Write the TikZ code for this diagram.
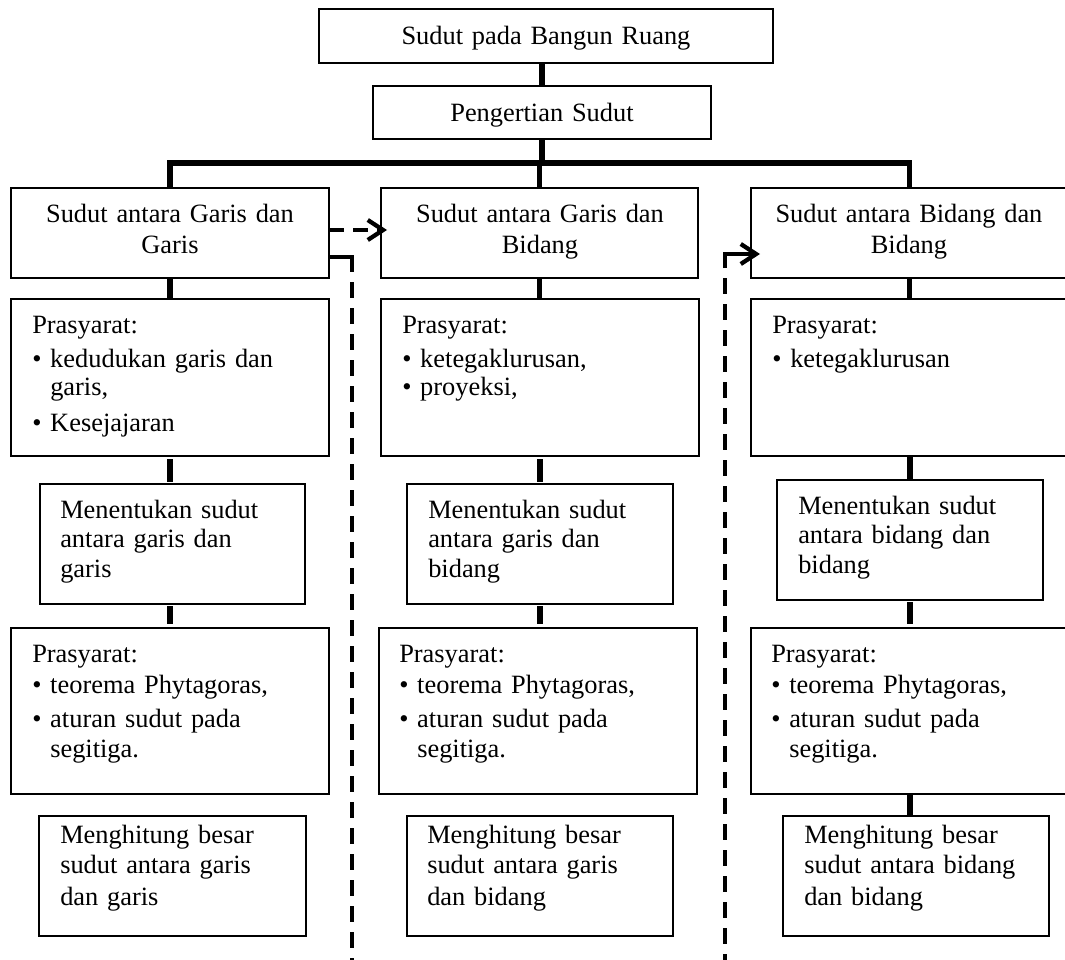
\documentclass[tikz,border=0pt]{standalone}
\usepackage{fontspec}
\setmainfont{Liberation Serif}
\usetikzlibrary{arrows.meta,calc}
\newcommand{\mybox}[5]{\node[box, minimum width={(#4-#2)*0.75pt}, minimum height={(#5-#3)*0.75pt}] (#1) at ({(#2+#4)/2},{(#3+#5)/2}) {};}
\newcommand{\bul}{\makebox[13.5pt][l]{\textbullet}}
\newcommand{\ind}{\hspace*{13.5pt}}
\begin{document}
\begin{tikzpicture}[x=0.75pt,y=-0.75pt,
  box/.style={draw=black, line width=0.9pt, inner sep=0pt, outer sep=0pt, rectangle},
  ltxt/.style={inner sep=0pt, anchor=base west, text width=260pt, align=left, font=\fontsize{19.8pt}{21pt}\selectfont},
  mtxt/.style={ltxt, font=\fontsize{19.8pt}{22.2pt}\selectfont},
  htxt/.style={ltxt, font=\fontsize{19.8pt}{22.5pt}\selectfont},
  ctxt/.style={inner sep=0pt, anchor=base, text width=230pt, align=center, font=\fontsize{19.8pt}{23.25pt}\selectfont},
  conn/.style={line width=3.8pt},
  gapconn/.style={conn, shorten <=2.25pt, shorten >=1.5pt},
  stub/.style={conn, shorten <=1.5pt, shorten >=3pt},
  tip/.style={-{Straight Barb[length=11.5pt,width=15pt]}},
  dasharrow/.style={line width=3.2pt, dash pattern=on 11.25pt off 6.75pt, tip},
  vdash/.style={line width=3.2pt, dash pattern=on 12pt off 7.5pt, dash phase=12pt},
  elbow/.style={line width=3.2pt}
]
\useasboundingbox (0,0) rectangle (1065,960);
\clip (0,0) rectangle (1065,960);

% boxes
\mybox{top}{319}{9}{773}{63}
\mybox{peng}{373}{86}{711}{139}
\mybox{b1}{11}{188}{329}{278}
\mybox{b2}{381}{188}{698}{278}
\mybox{b3}{751}{188}{1068}{278}
\mybox{p1a}{11}{299}{329}{456}
\mybox{p1b}{381}{299}{699}{456}
\mybox{p1c}{751}{299}{1069}{456}
\mybox{m1a}{40}{484}{305}{604}
\mybox{m1b}{407}{484}{673}{604}
\mybox{m1c}{777}{480}{1043}{600}
\mybox{p2a}{11}{628}{329}{794}
\mybox{p2b}{379}{628}{697}{794}
\mybox{p2c}{751}{628}{1069}{794}
\mybox{h1a}{39}{816}{306}{936}
\mybox{h1b}{407}{816}{673}{936}
\mybox{h1c}{783}{816}{1049}{936}

% texts
\node[ctxt] (ttop) at (546,45) {Sudut pada Bangun Ruang};
\node[ctxt] (tpeng) at (542,121) {Pengertian Sudut};
\node[ctxt] (tb1) at (170,222) {Sudut antara Garis dan\\Garis};
\node[ctxt] (tb2) at (540,222) {Sudut antara Garis dan\\Bidang};
\node[ctxt] (tb3) at (909,222) {Sudut antara Bidang dan\\Bidang};

\node[ltxt] (tp1a) at (32,333) {Prasyarat:\\[4.5pt]\bul kedudukan garis dan\\\ind garis,\\[6pt]\bul Kesejajaran};
\node[ltxt] (tp1b) at (402,333) {Prasyarat:\\[4.5pt]\bul ketegaklurusan,\\\bul proyeksi,};
\node[ltxt] (tp1c) at (772,333) {Prasyarat:\\[4.5pt]\bul ketegaklurusan};

\node[mtxt] (tm1a) at (60,518) {Menentukan sudut\\antara garis dan\\garis};
\node[mtxt] (tm1b) at (428,518) {Menentukan sudut\\antara garis dan\\bidang};
\node[mtxt] (tm1c) at (798,514) {Menentukan sudut\\antara bidang dan\\bidang};

\node[ltxt] (tp2a) at (32,662) {Prasyarat:\\[2.25pt]\bul teorema Phytagoras,\\[4.5pt]\bul aturan sudut pada\\[1.5pt]\ind segitiga.};
\node[ltxt] (tp2b) at (399,662) {Prasyarat:\\[2.25pt]\bul teorema Phytagoras,\\[4.5pt]\bul aturan sudut pada\\[1.5pt]\ind segitiga.};
\node[ltxt] (tp2c) at (771,662) {Prasyarat:\\[2.25pt]\bul teorema Phytagoras,\\[4.5pt]\bul aturan sudut pada\\[1.5pt]\ind segitiga.};

\node[htxt] (th1a) at (60,843) {Menghitung besar\\sudut antara garis\\[1.5pt]dan garis};
\node[htxt] (th1b) at (427,843) {Menghitung besar\\sudut antara garis\\[1.5pt]dan bidang};
\node[htxt] (th1c) at (804,843) {Menghitung besar\\sudut antara bidang\\[1.5pt]dan bidang};

% solid connectors
\coordinate (bus) at (540,163);
\draw[conn] (peng.north) -- (peng.north |- top.south);
\draw[conn] (peng.south) -- (peng.south |- bus);
\draw[conn] (b1.north) -- (b1.north |- bus) -| (b3.north);
\draw[conn] (b2.north) -- (b2.north |- bus);
\draw[conn] (b1.south) -- (b1.south |- p1a.north);
\draw[conn] (b2.south) -- (b2.south |- p1b.north);
\draw[conn] (b3.south) -- (b3.south |- p1c.north);
\draw[gapconn] (p1a.south) -- (p1a.south |- m1a.north);
\draw[gapconn] (p1b.south) -- (p1b.south |- m1b.north);
\draw[conn] (p1c.south) -- (p1c.south |- m1c.north);
\draw[stub] (m1a.south -| p1a.south) -- (p2a.north);
\draw[stub] (m1b.south -| p1b.south) -- (p1b.south |- p2b.north);
\draw[stub] (m1c.south -| p1c.south) -- (p2c.north);
\draw[conn] (p2c.south) -- (p2c.south |- h1c.north);

% dashed connectors
\coordinate (bot) at (0,965);
\coordinate (e1) at (352,272);
\coordinate (e2) at (725,268);
\draw[dasharrow] ($(b1.east)+(0,-3)$) -- ($(b2.west)+(6,-3)$);
\draw[elbow] ($(b1.east)+(0,24)$) -| (e1);
\draw[vdash] (e1) -- (e1 |- bot);
\draw[vdash] (e2) -- (e2 |- bot);
\draw[elbow, tip] (e2) |- ($(b3.west)+(9,21)$);
\end{tikzpicture}
\end{document}
